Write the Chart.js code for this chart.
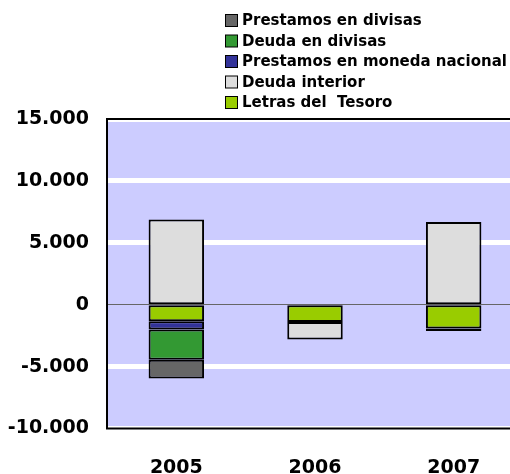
<!DOCTYPE html>
<html>
<head>
<meta charset="utf-8">
<script src="https://cdn.jsdelivr.net/npm/chart.js@4"></script>
<style>
  html, body { margin: 0; padding: 0; background: #fff; overflow: hidden; }
  #wrap { width: 523px; height: 474px; }
</style>
</head>
<body>
<div id="wrap"><canvas id="chart" width="523" height="474"></canvas></div>
<script>
const categories = ["2005", "2006", "2007"];
const letrasTesoro = [-1340, -1390, -1930];
const deudaInterior = [6880, -1430, 6690];
const prestamosMonedaNacional = [-670, null, -190];
const deudaDivisas = [-2430, null, null];
const prestamosDivisas = [-1530, null, null];
const yTicks = [15000, 10000, 5000, 0, -5000, -10000];

const FONT = "'DejaVu Sans', sans-serif";

// background + frame of the plot area
const plotFrame = {
  id: "plotFrame",
  beforeDraw(chart) {
    const { ctx, chartArea: a } = chart;
    ctx.save();
    ctx.fillStyle = "#ccccff";
    ctx.fillRect(a.left, a.top, a.right - a.left, a.bottom - a.top);
    ctx.restore();
  },
  afterDatasetsDraw(chart) {
    const { ctx, chartArea: a } = chart;
    ctx.save();
    ctx.strokeStyle = "#000";
    ctx.lineWidth = 2;
    ctx.beginPath();
    ctx.moveTo(a.right + 2, a.top);
    ctx.lineTo(a.left, a.top);
    ctx.lineTo(a.left, a.bottom);
    ctx.lineTo(a.right + 2, a.bottom);
    ctx.stroke();
    ctx.restore();
  }
};

// legend as a column, reversed like the original
const columnLegend = {
  id: "columnLegend",
  afterDraw(chart) {
    const ctx = chart.ctx;
    const sets = chart.data.datasets.slice().reverse();
    ctx.save();
    ctx.font = "bold 15px " + FONT;
    ctx.textBaseline = "middle";
    sets.forEach((ds, i) => {
      const y = 20.5 + i * 20.5;
      ctx.fillStyle = ds.backgroundColor;
      ctx.fillRect(225.5, y - 6, 12, 12);
      ctx.strokeStyle = "#000";
      ctx.lineWidth = 1;
      ctx.strokeRect(225.5, y - 6, 12, 12);
      ctx.fillStyle = "#000";
      ctx.fillText(ds.label, 242, y + 1);
    });
    ctx.restore();
  }
};

const bar = (label, data, color) => ({
  label, data,
  backgroundColor: color,
  borderColor: "#000",
  borderWidth: 2,
  borderSkipped: false,
  barPercentage: 0.4,
  categoryPercentage: 1
});

new Chart(document.getElementById("chart"), {
  type: "bar",
  data: {
    labels: categories,
    datasets: [
      bar("Letras del  Tesoro", letrasTesoro, "#99cc00"),
      bar("Deuda interior", deudaInterior, "#dddddd"),
      bar("Prestamos en moneda nacional", prestamosMonedaNacional, "#333399"),
      bar("Deuda en divisas", deudaDivisas, "#339933"),
      bar("Prestamos en divisas", prestamosDivisas, "#666666")
    ]
  },
  options: {
    responsive: false,
    animation: false,
    layout: { padding: { top: 119, right: 0, bottom: 0, left: 0 } },
    plugins: {
      legend: { display: false },
      tooltip: { enabled: false }
    },
    scales: {
      x: {
        stacked: true,
        grid: { display: false, drawTicks: false },
        border: { display: false },
        ticks: { color: "#000", padding: 28, font: { family: FONT, size: 19, weight: "bold" } },
        afterFit(scale) { scale.height = 45.5; }
      },
      y: {
        stacked: true,
        min: -10000,
        max: 15000,
        afterBuildTicks(scale) { scale.ticks = yTicks.map((v) => ({ value: v })); },
        grid: {
          drawTicks: false,
          color: (c) => c.tick && c.tick.value === 0 ? "#666666" : "#ffffff",
          lineWidth: (c) => c.tick && c.tick.value === 0 ? 1 : 5
        },
        border: { display: false },
        ticks: {
          color: "#000",
          padding: 18,
          font: { family: FONT, size: 19, weight: "bold" },
          callback: (v) => v.toLocaleString("de-DE")
        },
        afterFit(scale) { scale.width = 107; }
      }
    }
  },
  plugins: [plotFrame, columnLegend]
});
</script>
</body>
</html>
